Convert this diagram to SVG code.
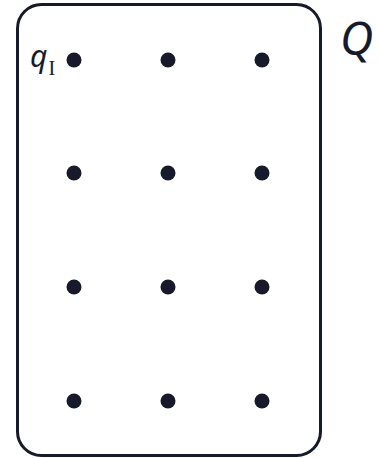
<svg xmlns="http://www.w3.org/2000/svg" width="379" height="458" viewBox="0 0 379 458">
<style>
.st{fill:#161a2b;}
.lbl{font-family:"Noto Sans","Open Sans",sans-serif;font-style:italic;fill:#161a2b;}
.sub{font-family:"Liberation Serif","DejaVu Serif",serif;fill:#161a2b;}
</style>
<rect width="379" height="458" fill="#ffffff"/>
<g id="Q">
<rect x="17.5" y="4.5" width="303" height="451" rx="24" ry="24" fill="none" stroke="#161a2b" stroke-width="3"/>
<text class="lbl" x="340" y="55" font-size="46">Q</text>
</g>
<g id="states">
<g id="q00"><circle class="st" cx="74" cy="60" r="7.5"/><text class="lbl" x="30" y="67" font-size="30">q</text><text class="sub" x="48.5" y="75" font-size="20">I</text></g>
<g id="q01"><circle class="st" cx="168" cy="60" r="7.5"/></g>
<g id="q02"><circle class="st" cx="262" cy="60" r="7.5"/></g>
<g id="q10"><circle class="st" cx="74" cy="173" r="7.5"/></g>
<g id="q11"><circle class="st" cx="168" cy="173" r="7.5"/></g>
<g id="q12"><circle class="st" cx="262" cy="173" r="7.5"/></g>
<g id="q20"><circle class="st" cx="74" cy="287" r="7.5"/></g>
<g id="q21"><circle class="st" cx="168" cy="287" r="7.5"/></g>
<g id="q22"><circle class="st" cx="262" cy="287" r="7.5"/></g>
<g id="q30"><circle class="st" cx="74" cy="401" r="7.5"/></g>
<g id="q31"><circle class="st" cx="168" cy="401" r="7.5"/></g>
<g id="q32"><circle class="st" cx="262" cy="401" r="7.5"/></g>
</g>
<g id="connectors"></g>
</svg>
